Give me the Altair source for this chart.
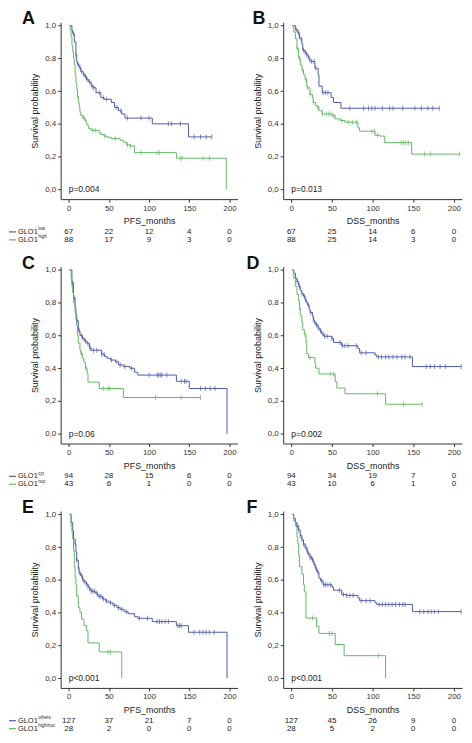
import altair as alt
import pandas as pd

BLUE = "#4d5cab"
GREEN = "#62b862"
FONT = "Liberation Sans"

TICKS_X = [0, 50, 100, 150, 200]
TICKS_Y = [0.0, 0.2, 0.4, 0.6, 0.8, 1.0]
XDOM = [-10, 210]
YDOM = [-0.06, 1.02]
H = 178
WL = 178
WR = 180

# ---------------- Panel A (PFS, GLO1 low / high) ----------------
A_low_t = [1, 4, 5, 7, 9, 10, 11, 13, 15, 18, 20, 22, 25, 28, 31, 34, 40, 44, 53, 57, 62, 66, 70, 104, 149]
A_low_s = [1.0, 0.97, 0.95, 0.90, 0.82, 0.78, 0.76, 0.745, 0.72, 0.70, 0.69, 0.67, 0.655, 0.63, 0.62, 0.59, 0.56, 0.55, 0.53, 0.50, 0.48, 0.46, 0.435, 0.40, 0.32]
A_low_end = 178
A_low_c = [6, 9, 12, 14, 16, 19, 21, 23, 26, 29, 31, 38, 43, 47, 60, 65, 73, 90, 100, 124, 128, 139, 156, 164, 171, 178]
A_high_t = [1, 2, 3, 4, 5, 6, 7, 8, 9, 10, 11, 12, 13, 14, 15, 17, 19, 21, 22, 23, 25, 28, 38, 40, 44, 48, 53, 64, 68, 72, 76, 82, 134, 196]
A_high_s = [1.0, 0.97, 0.93, 0.88, 0.84, 0.80, 0.76, 0.70, 0.65, 0.61, 0.57, 0.53, 0.50, 0.47, 0.45, 0.44, 0.43, 0.42, 0.40, 0.39, 0.37, 0.36, 0.345, 0.335, 0.325, 0.318, 0.31, 0.30, 0.288, 0.272, 0.265, 0.224, 0.19, 0.0]
A_high_end = 196
A_high_c = [11, 18, 20, 30, 33, 45, 58, 73, 77, 90, 110, 113, 139, 141, 167, 175]
A_risk_low = [67, 22, 12, 4, 0]
A_risk_high = [88, 17, 9, 3, 0]

# ---------------- Panel B (DSS, GLO1 low / high) ----------------
B_low_t = [1, 5, 8, 10, 13, 14, 17, 19, 21, 23, 29, 33, 34, 38, 49, 52, 61]
B_low_s = [1.0, 0.975, 0.955, 0.92, 0.89, 0.85, 0.835, 0.82, 0.80, 0.78, 0.74, 0.70, 0.63, 0.59, 0.56, 0.53, 0.495]
B_low_end = 182
B_low_c = [6, 9, 12, 15, 17, 19, 22, 25, 28, 30, 39, 42, 45, 72, 89, 95, 99, 103, 112, 121, 125, 137, 152, 160, 168, 174, 182]
B_high_t = [1, 3, 5, 7, 9, 11, 13, 15, 17, 19, 20, 23, 26, 27, 30, 32, 34, 38, 50, 54, 60, 66, 82, 84, 103, 109, 115, 148]
B_high_s = [1.0, 0.96, 0.92, 0.86, 0.80, 0.76, 0.73, 0.70, 0.67, 0.63, 0.62, 0.58, 0.56, 0.53, 0.51, 0.50, 0.48, 0.46, 0.45, 0.43, 0.42, 0.41, 0.375, 0.355, 0.33, 0.325, 0.285, 0.215]
B_high_end = 207
B_high_c = [7, 10, 14, 18, 20, 23, 27, 33, 38, 43, 46, 49, 52, 62, 70, 75, 80, 99, 102, 106, 135, 138, 141, 144, 164, 171, 207]
B_risk_low = [67, 25, 14, 6, 0]
B_risk_high = [88, 25, 14, 3, 0]

# ---------------- Panel C (PFS, GLO1 cyt / nuc) ----------------
C_cyt_t = [1, 4, 6, 8, 9, 10, 12, 14, 17, 20, 23, 26, 28, 41, 45, 48, 52, 58, 62, 68, 76, 82, 86, 134, 150, 197]
C_cyt_s = [1.0, 0.92, 0.83, 0.77, 0.73, 0.69, 0.63, 0.60, 0.58, 0.565, 0.55, 0.52, 0.51, 0.485, 0.47, 0.46, 0.45, 0.44, 0.42, 0.41, 0.40, 0.375, 0.358, 0.32, 0.276, 0.0]
C_cyt_end = 197
C_cyt_c = [5, 7, 10, 13, 16, 18, 21, 24, 27, 31, 35, 41, 44, 53, 59, 64, 70, 78, 100, 110, 112, 114, 116, 122, 140, 144, 146, 164, 170, 176, 182]
C_nuc_t = [1, 3, 4, 5, 6, 8, 9, 10, 11, 12, 14, 15, 17, 19, 21, 23, 24, 38, 68]
C_nuc_s = [1.0, 0.95, 0.90, 0.86, 0.80, 0.74, 0.70, 0.66, 0.60, 0.553, 0.51, 0.49, 0.46, 0.436, 0.397, 0.37, 0.315, 0.276, 0.221]
C_nuc_end = 164
C_nuc_c = [16, 22, 43, 49, 51, 108, 140, 164]
C_risk_cyt = [94, 28, 15, 6, 0]
C_risk_nuc = [43, 6, 1, 0, 0]

# ---------------- Panel D (DSS, GLO1 cyt / nuc) ----------------
D_cyt_t = [1, 3, 5, 7, 9, 11, 13, 15, 17, 19, 20, 22, 23, 26, 27, 28, 30, 33, 35, 37, 40, 50, 52, 62, 82, 84, 103, 105, 149]
D_cyt_s = [1.0, 0.98, 0.95, 0.93, 0.90, 0.875, 0.855, 0.84, 0.815, 0.80, 0.785, 0.76, 0.74, 0.72, 0.70, 0.68, 0.665, 0.645, 0.63, 0.61, 0.595, 0.58, 0.557, 0.537, 0.52, 0.494, 0.48, 0.469, 0.41]
D_cyt_end = 209
D_cyt_c = [7, 10, 13, 16, 18, 21, 24, 27, 29, 31, 33, 36, 39, 41, 44, 50, 60, 63, 66, 70, 80, 86, 92, 107, 111, 116, 120, 125, 130, 136, 140, 146, 166, 171, 176, 183, 190, 209]
D_nuc_t = [1, 3, 5, 7, 9, 10, 11, 13, 14, 16, 18, 19, 21, 29, 30, 34, 54, 56, 66, 116]
D_nuc_s = [1.0, 0.95, 0.90, 0.85, 0.81, 0.77, 0.72, 0.68, 0.635, 0.605, 0.56, 0.49, 0.465, 0.43, 0.40, 0.365, 0.318, 0.279, 0.244, 0.18]
D_nuc_end = 161
D_nuc_c = [10, 17, 23, 48, 52, 106, 138, 161]
D_risk_cyt = [94, 34, 19, 7, 0]
D_risk_nuc = [43, 10, 6, 1, 0]

# ---------------- Panel E (PFS, GLO1 others / high-nuc) ----------------
E_oth_t = [1, 3, 5, 6, 8, 9, 10, 12, 13, 15, 17, 19, 22, 24, 26, 28, 33, 36, 42, 46, 50, 55, 60, 64, 69, 74, 82, 86, 104, 134, 149, 197]
E_oth_s = [1.0, 0.95, 0.90, 0.85, 0.82, 0.77, 0.72, 0.675, 0.64, 0.626, 0.60, 0.587, 0.575, 0.558, 0.545, 0.53, 0.52, 0.50, 0.483, 0.47, 0.46, 0.445, 0.43, 0.42, 0.405, 0.393, 0.375, 0.365, 0.345, 0.32, 0.28, 0.0]
E_oth_end = 197
E_oth_c = [8, 10, 12, 14, 16, 18, 20, 22, 24, 26, 28, 30, 32, 35, 38, 40, 43, 47, 52, 57, 62, 66, 72, 88, 98, 110, 113, 116, 120, 124, 136, 138, 140, 156, 163, 167, 171, 175, 181]
E_hn_t = [1, 3, 4, 5, 6, 7, 8, 9, 10, 12, 14, 16, 19, 22, 24, 38, 66]
E_hn_s = [1.0, 0.93, 0.89, 0.85, 0.78, 0.68, 0.61, 0.57, 0.50, 0.43, 0.40, 0.36, 0.32, 0.29, 0.215, 0.16, 0.0]
E_hn_end = 66
E_hn_c = [49, 52]
E_risk_oth = [127, 37, 21, 7, 0]
E_risk_hn = [28, 2, 0, 0, 0]

# ---------------- Panel F (DSS, GLO1 others / high-nuc) ----------------
F_oth_t = [1, 3, 5, 7, 9, 11, 13, 15, 17, 19, 20, 23, 26, 28, 30, 32, 34, 36, 39, 50, 52, 62, 68, 82, 84, 103, 105, 149]
F_oth_s = [1.0, 0.975, 0.95, 0.93, 0.905, 0.87, 0.845, 0.82, 0.80, 0.785, 0.76, 0.735, 0.713, 0.69, 0.664, 0.645, 0.61, 0.595, 0.57, 0.555, 0.537, 0.51, 0.505, 0.49, 0.473, 0.46, 0.45, 0.406]
F_oth_end = 209
F_oth_c = [7, 9, 11, 13, 15, 17, 19, 21, 23, 25, 27, 29, 31, 33, 37, 40, 42, 45, 48, 59, 64, 68, 72, 76, 86, 92, 97, 108, 112, 116, 120, 124, 128, 133, 137, 140, 158, 163, 168, 172, 176, 181, 209]
F_hn_t = [1, 3, 5, 7, 8, 9, 10, 13, 15, 16, 18, 31, 34, 54, 65, 116]
F_hn_s = [1.0, 0.96, 0.93, 0.86, 0.82, 0.75, 0.68, 0.635, 0.572, 0.527, 0.367, 0.316, 0.273, 0.205, 0.137, 0.0]
F_hn_end = 116
F_hn_c = [26, 47, 50, 107]
F_risk_oth = [127, 45, 26, 9, 0]
F_risk_hn = [28, 5, 2, 0, 0]

LABELS_AB = [("GLO1", "low"), ("GLO1", "high")]
LABELS_CD = [("GLO1", "cyt"), ("GLO1", "nuc")]
LABELS_EF = [("GLO1", "others"), ("GLO1", "high/nuc")]


def curve_rows(times, surv, end, group):
    rows = [{"t": t, "s": s, "g": group} for t, s in zip(times, surv)]
    if end > times[-1]:
        rows.append({"t": end, "s": surv[-1], "g": group})
    return rows


def censor_rows(times, surv, cens, group):
    rows = []
    for c in cens:
        val = surv[0]
        for t, v in zip(times, surv):
            if t <= c:
                val = v
        rows.append({"t": c, "s": val, "g": group})
    return rows


def panel(letter, ldx, metric, pval, W, blue, green, risk_b, risk_g, legend=None):
    xenc = alt.X("t:Q", scale=alt.Scale(domain=XDOM, nice=False, zero=False),
                 axis=alt.Axis(values=TICKS_X, title=metric, grid=False, format="d",
                               labelFlush=False, labelOverlap=False, tickSize=3,
                               labelPadding=2, titlePadding=5))
    yenc = alt.Y("s:Q", scale=alt.Scale(domain=YDOM, nice=False, zero=False),
                 axis=alt.Axis(values=TICKS_Y, title="Survival probability", grid=False,
                               labelExpr="replace(format(datum.value, '.1f'), '.', ',')",
                               labelFlush=False, labelOverlap=False, tickSize=3,
                               labelPadding=2, titlePadding=5))
    cenc = alt.Color("g:N", scale=alt.Scale(domain=["b", "g"], range=[BLUE, GREEN]), legend=None)

    line_df = pd.DataFrame(curve_rows(*blue[:3], "b") + curve_rows(*green[:3], "g"))
    cens_df = pd.DataFrame(censor_rows(blue[0], blue[1], blue[3], "b") +
                           censor_rows(green[0], green[1], green[3], "g"))

    lines = alt.Chart(line_df).mark_line(interpolate="step-after", strokeWidth=1).encode(
        x=xenc, y=yenc, color=cenc)
    ticks = alt.Chart(cens_df).mark_tick(orient="vertical", size=5, thickness=1).encode(
        x=xenc, y=yenc, color=cenc)
    ptext = alt.Chart(pd.DataFrame({"t": [0], "s": [0.0], "label": [pval]})).mark_text(
        align="left", baseline="middle", fontSize=8.5, font=FONT, color="#222").encode(
        x=xenc, y=yenc, text="label:N")
    one = pd.DataFrame({"a": [0]})
    let = alt.Chart(one).mark_text(align="left", baseline="alphabetic", fontSize=18,
                                   fontWeight="bold", font=FONT, color="#111").encode(
        x=alt.value(ldx), y=alt.value(2), text=alt.value(letter))
    layers = [lines, ticks, ptext, let]
    for risk, yoff in ((risk_b, H + 33), (risk_g, H + 41)):
        rdf = pd.DataFrame({"t": TICKS_X, "n": risk})
        layers.append(alt.Chart(rdf).mark_text(baseline="middle", fontSize=8, font=FONT,
                                               color="#222").encode(
            x=xenc, y=alt.value(yoff), text=alt.Text("n:Q", format="d")))
    if legend is not None:
        for (main, sup), col, yoff in ((legend[0], BLUE, H + 33), (legend[1], GREEN, H + 41)):
            layers.append(alt.Chart(one).mark_rule(strokeWidth=1.2, color=col).encode(
                x=alt.value(-52), x2=alt.value(-45), y=alt.value(yoff)))
            layers.append(alt.Chart(one).mark_text(align="left", baseline="middle", fontSize=7.5,
                                                   font=FONT, color="#222").encode(
                x=alt.value(-43), y=alt.value(yoff), text=alt.value(main)))
            layers.append(alt.Chart(one).mark_text(align="left", baseline="middle", fontSize=4.5,
                                                   font=FONT, color="#222").encode(
                x=alt.value(-22.5), y=alt.value(yoff - 2.5), text=alt.value(sup)))
    return alt.layer(*layers).properties(width=W, height=H)


pA = panel("A", -39, "PFS_months", "p=0.004", WL,
           (A_low_t, A_low_s, A_low_end, A_low_c), (A_high_t, A_high_s, A_high_end, A_high_c),
           A_risk_low, A_risk_high, LABELS_AB)
pB = panel("B", -31, "DSS_months", "p=0.013", WR,
           (B_low_t, B_low_s, B_low_end, B_low_c), (B_high_t, B_high_s, B_high_end, B_high_c),
           B_risk_low, B_risk_high)
pC = panel("C", -39, "PFS_months", "p=0.06", WL,
           (C_cyt_t, C_cyt_s, C_cyt_end, C_cyt_c), (C_nuc_t, C_nuc_s, C_nuc_end, C_nuc_c),
           C_risk_cyt, C_risk_nuc, LABELS_CD)
pD = panel("D", -37, "DSS_months", "p=0.002", WR,
           (D_cyt_t, D_cyt_s, D_cyt_end, D_cyt_c), (D_nuc_t, D_nuc_s, D_nuc_end, D_nuc_c),
           D_risk_cyt, D_risk_nuc)
pE = panel("E", -39, "PFS_months", "p<0.001", WL,
           (E_oth_t, E_oth_s, E_oth_end, E_oth_c), (E_hn_t, E_hn_s, E_hn_end, E_hn_c),
           E_risk_oth, E_risk_hn, LABELS_EF)
pF = panel("F", -37, "DSS_months", "p<0.001", WR,
           (F_oth_t, F_oth_s, F_oth_end, F_oth_c), (F_hn_t, F_hn_s, F_hn_end, F_hn_c),
           F_risk_oth, F_risk_hn)

chart = alt.concat(pA, pB, pC, pD, pE, pF, columns=2, bounds="flush",
                   spacing=alt.RowColnumber(row=68, column=46)).properties(padding=0).configure_view(
    stroke=None).configure_axis(
    domainColor="#333", tickColor="#333", labelColor="#333", titleColor="#222",
    labelFont=FONT, titleFont=FONT, labelFontSize=8, titleFontSize=9,
    titleFontWeight="normal", domainWidth=1, tickWidth=1)

chart.save("out.html", embed_options={"renderer": "svg", "actions": False})
